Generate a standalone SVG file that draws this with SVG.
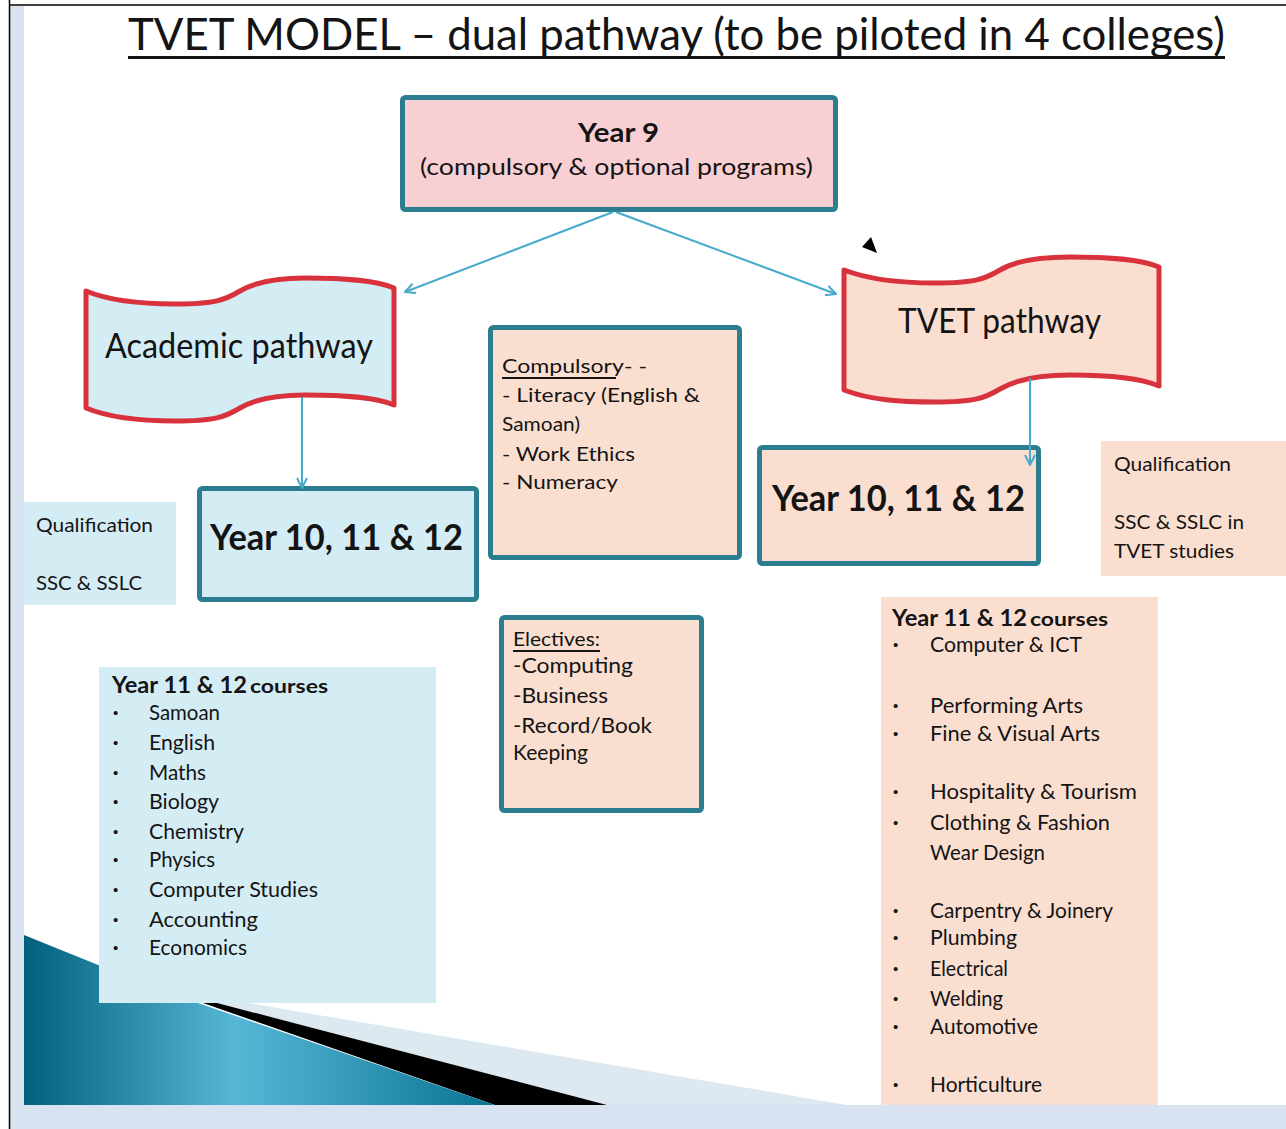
<svg xmlns="http://www.w3.org/2000/svg" width="1286" height="1129" viewBox="0 0 1286 1129">
  <style>
    .t { font-family: Lato, "Open Sans", "Liberation Sans", sans-serif; fill: #141414; }
    .b { font-weight: bold; }
    .dot { font-family: "Liberation Sans", sans-serif; font-size: 15px; fill: #141414; }
    .box { stroke: #2c7d8f; stroke-width: 5; }
    .blue { fill: #d4ecf4; }
    .peach { fill: #fadfd1; }
    .banner { stroke: #d8323d; stroke-width: 5; stroke-linejoin: round; }
    .conn { stroke: #45aacb; stroke-width: 2; fill: none; }
  </style>
  <defs>
    <marker id="arr" viewBox="0 0 12 12" refX="11" refY="6" markerWidth="12" markerHeight="12" markerUnits="userSpaceOnUse" orient="auto">
      <path d="M1,1 L11,6 L1,11" fill="none" stroke="#45aacb" stroke-width="2"/>
    </marker>
    <linearGradient id="teal" x1="24" y1="0" x2="495" y2="0" gradientUnits="userSpaceOnUse">
      <stop offset="0" stop-color="#02607c"/>
      <stop offset="0.45" stop-color="#57b7d6"/>
      <stop offset="1" stop-color="#087492"/>
    </linearGradient>
  </defs>

  <!-- page background and frame -->
  <rect x="0" y="0" width="1286" height="1129" fill="#ffffff"/>
  <rect x="10" y="6" width="14" height="1100" fill="#d9e2f1"/>
  <rect x="10" y="1105" width="1276" height="24" fill="#d9e2f1"/>
  <line x1="9.5" y1="0" x2="9.5" y2="1129" stroke="#000" stroke-width="1.5"/>
  <line x1="9" y1="5" x2="1286" y2="5" stroke="#000" stroke-width="1.5"/>

  <!-- corner decoration -->
  <g id="corner-decoration">
    <polygon points="160,988 607,1105 847,1105" fill="#dde9f1"/>
    <polygon points="160,988 495,1105 607,1105" fill="#000"/>
    <polygon points="24,935 160,990 495,1105 24,1105" fill="url(#teal)"/>
  </g>

  <!-- title -->
  <g id="title">
    <text class="t" x="128" y="50" font-size="45" textLength="1097" lengthAdjust="spacingAndGlyphs">TVET MODEL  –  dual pathway  (to be piloted in 4 colleges)</text>
    <rect x="128" y="56" width="1097" height="3" fill="#141414"/>
  </g>

  <!-- small pointer -->
  <polygon id="pointer" points="862,247 871,237 877,253" fill="#000"/>

  <g id="year9">
    <rect class="box" x="402.5" y="97.5" width="433" height="112" rx="3" fill="#f8d0d3"/>
    <text class="t b" x="578" y="142" font-size="27" textLength="81" lengthAdjust="spacingAndGlyphs">Year 9</text>
    <text class="t" x="420" y="175" font-size="24" textLength="393" lengthAdjust="spacingAndGlyphs">(compulsory &amp; optional programs)</text>
  </g>

  <g id="academic-pathway">
    <path class="banner blue" d="M86,291 C110,301 140,304 175,304 C215,304 225,300 240,291 C255,282 275,278 305,278 C345,278 375,280 394,288 L394,405 C375,397 345,395 305,395 C275,395 255,399 240,408 C225,417 215,421 175,421 C140,421 110,418 86,408 Z"/>
    <text class="t" x="105" y="358" font-size="34" textLength="268" lengthAdjust="spacingAndGlyphs">Academic pathway</text>
  </g>

  <g id="tvet-pathway">
    <path class="banner peach" d="M844,270 C870,280 900,283 935,283 C975,283 985,279 1000,270 C1015,261 1040,257 1070,257 C1110,257 1140,259 1159,267 L1159,386 C1140,378 1110,375 1070,375 C1040,375 1015,380 1000,389 C985,398 975,402 935,402 C900,402 870,400 844,390 Z"/>
    <text class="t" x="898" y="333" font-size="34" textLength="203" lengthAdjust="spacingAndGlyphs">TVET pathway</text>
  </g>

  <g id="academic-years">
    <rect class="box blue" x="199.5" y="488.5" width="277" height="111" rx="3"/>
    <text class="t b" x="210" y="550" font-size="37" textLength="253" lengthAdjust="spacingAndGlyphs">Year 10, 11 &amp; 12</text>
  </g>

  <g id="academic-qualification">
    <rect class="blue" x="24" y="502" width="152" height="103"/>
    <text class="t" x="36" y="532" font-size="20" textLength="117" lengthAdjust="spacingAndGlyphs">Qualification</text>
    <text class="t" x="36" y="590" font-size="20" textLength="106" lengthAdjust="spacingAndGlyphs">SSC &amp; SSLC</text>
  </g>

  <g id="compulsory">
    <rect class="box peach" x="490.5" y="327.5" width="249" height="230" rx="3"/>
    <text class="t" x="502" y="373" font-size="20" textLength="145" lengthAdjust="spacingAndGlyphs">Compulsory- -</text>
    <rect x="502" y="377" width="114" height="2" fill="#141414"/>
    <text class="t" x="502" y="402" font-size="20" textLength="198" lengthAdjust="spacingAndGlyphs">- Literacy  (English &amp;</text>
    <text class="t" x="502" y="431" font-size="20" textLength="78" lengthAdjust="spacingAndGlyphs">Samoan)</text>
    <text class="t" x="502" y="461" font-size="20" textLength="133" lengthAdjust="spacingAndGlyphs">-  Work Ethics</text>
    <text class="t" x="502" y="489" font-size="20" textLength="116" lengthAdjust="spacingAndGlyphs">-  Numeracy</text>
  </g>

  <g id="electives">
    <rect class="box peach" x="501.5" y="617.5" width="200" height="193" rx="3"/>
    <text class="t" x="513" y="646" font-size="19" textLength="87" lengthAdjust="spacingAndGlyphs">Electives:</text>
    <rect x="513" y="650" width="87" height="2" fill="#141414"/>
    <text class="t" x="513" y="673" font-size="21" textLength="120" lengthAdjust="spacingAndGlyphs">-Computing</text>
    <text class="t" x="513" y="703" font-size="21" textLength="95" lengthAdjust="spacingAndGlyphs">-Business</text>
    <text class="t" x="513" y="733" font-size="21" textLength="139" lengthAdjust="spacingAndGlyphs">-Record/Book</text>
    <text class="t" x="513" y="760" font-size="21" textLength="75" lengthAdjust="spacingAndGlyphs">Keeping</text>
  </g>

  <g id="tvet-years">
    <rect class="box peach" x="759.5" y="447.5" width="279" height="116" rx="3"/>
    <text class="t b" x="772" y="511" font-size="37" textLength="253" lengthAdjust="spacingAndGlyphs">Year 10, 11 &amp; 12</text>
  </g>

  <g id="tvet-qualification">
    <rect class="peach" x="1101" y="441" width="185" height="135"/>
    <text class="t" x="1114" y="471" font-size="20" textLength="117" lengthAdjust="spacingAndGlyphs">Qualification</text>
    <text class="t" x="1114" y="529" font-size="20" textLength="130" lengthAdjust="spacingAndGlyphs">SSC &amp; SSLC in</text>
    <text class="t" x="1114" y="558" font-size="20" textLength="120" lengthAdjust="spacingAndGlyphs">TVET studies</text>
  </g>

  <g id="academic-courses">
    <rect class="blue" x="99" y="667" width="337" height="336"/>
    <text class="t b" x="112" y="693" font-size="22" textLength="135" lengthAdjust="spacingAndGlyphs">Year 11 &amp; 12</text>
    <text class="t b" x="250" y="693" font-size="19" textLength="78" lengthAdjust="spacingAndGlyphs">courses</text>
    <g font-size="21">
      <text class="dot" x="113" y="718">•</text><text class="t" x="149" y="720" textLength="71" lengthAdjust="spacingAndGlyphs">Samoan</text>
      <text class="dot" x="113" y="748">•</text><text class="t" x="149" y="750" textLength="66" lengthAdjust="spacingAndGlyphs">English</text>
      <text class="dot" x="113" y="778">•</text><text class="t" x="149" y="780" textLength="57" lengthAdjust="spacingAndGlyphs">Maths</text>
      <text class="dot" x="113" y="807">•</text><text class="t" x="149" y="809" textLength="70" lengthAdjust="spacingAndGlyphs">Biology</text>
      <text class="dot" x="113" y="837">•</text><text class="t" x="149" y="839" textLength="95" lengthAdjust="spacingAndGlyphs">Chemistry</text>
      <text class="dot" x="113" y="865">•</text><text class="t" x="149" y="867" textLength="66" lengthAdjust="spacingAndGlyphs">Physics</text>
      <text class="dot" x="113" y="895">•</text><text class="t" x="149" y="897" textLength="169" lengthAdjust="spacingAndGlyphs">Computer Studies</text>
      <text class="dot" x="113" y="925">•</text><text class="t" x="149" y="927" textLength="109" lengthAdjust="spacingAndGlyphs">Accounting</text>
      <text class="dot" x="113" y="953">•</text><text class="t" x="149" y="955" textLength="98" lengthAdjust="spacingAndGlyphs">Economics</text>
    </g>
  </g>

  <g id="tvet-courses">
    <rect class="peach" x="881" y="597" width="277" height="508"/>
    <text class="t b" x="892" y="626" font-size="22" textLength="135" lengthAdjust="spacingAndGlyphs">Year 11 &amp; 12</text>
    <text class="t b" x="1030" y="626" font-size="19" textLength="78" lengthAdjust="spacingAndGlyphs">courses</text>
    <g font-size="21">
      <text class="dot" x="893" y="650">•</text><text class="t" x="930" y="652" textLength="152" lengthAdjust="spacingAndGlyphs">Computer &amp; ICT</text>
      <text class="dot" x="893" y="711">•</text><text class="t" x="930" y="713" textLength="153" lengthAdjust="spacingAndGlyphs">Performing  Arts</text>
      <text class="dot" x="893" y="739">•</text><text class="t" x="930" y="741" textLength="170" lengthAdjust="spacingAndGlyphs">Fine  &amp; Visual  Arts</text>
      <text class="dot" x="893" y="797">•</text><text class="t" x="930" y="799" textLength="207" lengthAdjust="spacingAndGlyphs">Hospitality  &amp; Tourism</text>
      <text class="dot" x="893" y="828">•</text><text class="t" x="930" y="830" textLength="180" lengthAdjust="spacingAndGlyphs">Clothing &amp; Fashion</text>
      <text class="t" x="930" y="860" textLength="115" lengthAdjust="spacingAndGlyphs">Wear Design</text>
      <text class="dot" x="893" y="916">•</text><text class="t" x="930" y="918" textLength="183" lengthAdjust="spacingAndGlyphs">Carpentry  &amp; Joinery</text>
      <text class="dot" x="893" y="943">•</text><text class="t" x="930" y="945" textLength="87" lengthAdjust="spacingAndGlyphs">Plumbing</text>
      <text class="dot" x="893" y="974">•</text><text class="t" x="930" y="976" textLength="78" lengthAdjust="spacingAndGlyphs">Electrical</text>
      <text class="dot" x="893" y="1004">•</text><text class="t" x="930" y="1006" textLength="73" lengthAdjust="spacingAndGlyphs">Welding</text>
      <text class="dot" x="893" y="1032">•</text><text class="t" x="930" y="1034" textLength="108" lengthAdjust="spacingAndGlyphs">Automotive</text>
      <text class="dot" x="893" y="1090">•</text><text class="t" x="930" y="1092" textLength="112" lengthAdjust="spacingAndGlyphs">Horticulture</text>
    </g>
  </g>

  <!-- connectors, drawn last so the heads sit on top of the boxes -->
  <g id="connectors">
    <line class="conn" x1="613" y1="212" x2="405" y2="292" marker-end="url(#arr)"/>
    <line class="conn" x1="616" y1="212" x2="836" y2="294" marker-end="url(#arr)"/>
    <line class="conn" x1="302" y1="397" x2="302" y2="488" marker-end="url(#arr)"/>
    <line class="conn" x1="1030" y1="378" x2="1030" y2="465" marker-end="url(#arr)"/>
  </g>
</svg>
